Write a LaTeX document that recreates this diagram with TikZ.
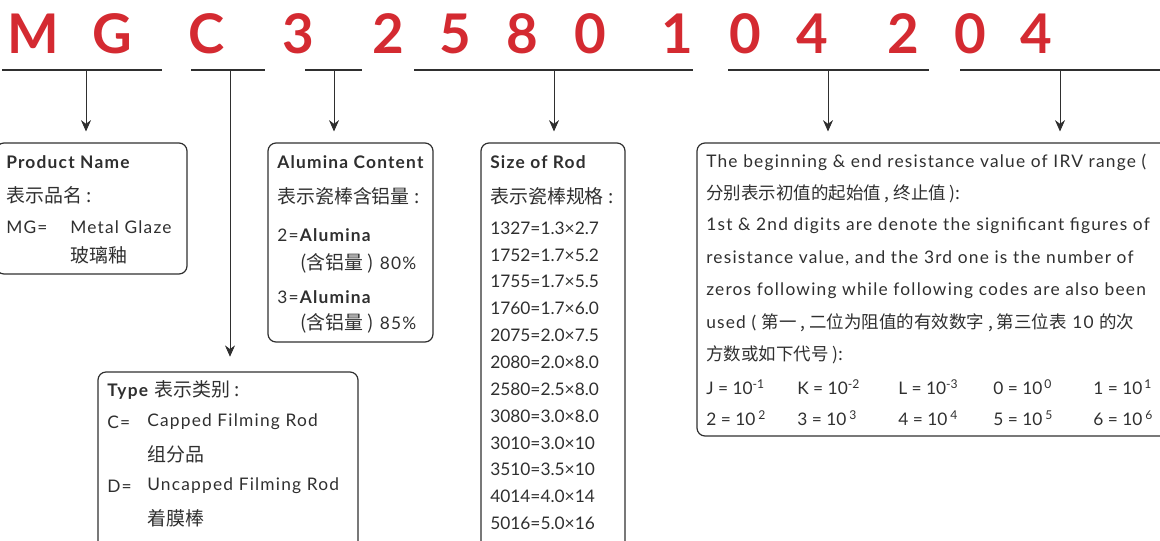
\documentclass[tikz,border=0pt]{standalone}
\usepackage{fontspec}
\setmainfont{Lato}[LetterSpace=7.0]
\newfontfamily\plain{Lato}
\newfontfamily\cjk{Noto Sans CJK SC}
\usepackage{tikz}
\usetikzlibrary{arrows.meta,positioning,fit}
\definecolor{codered}{HTML}{D42A31}
\definecolor{ink}{HTML}{2F2F2F}
\newcommand{\zh}[1]{{\cjk\fontsize{14.2pt}{16pt}\selectfont #1}}
\newcommand{\zhs}[1]{{\cjk\fontsize{13.1pt}{15pt}\selectfont #1}}

\tikzset{
    txt/.style={anchor=west, inner sep=0pt, text=ink,
        font=\fontsize{13pt}{15pt}\selectfont},
    num/.style={txt, font=\plain\fontsize{13pt}{15pt}\selectfont},
    head/.style={txt, font=\fontsize{13pt}{15pt}\selectfont\bfseries},
    codechar/.style={inner sep=0pt, text=codered,
        font=\plain\fontsize{41pt}{44pt}\selectfont\bfseries},
    infobox/.style={draw=ink, line width=0.9pt, rounded corners=6pt, inner sep=0pt},
    underline/.style={draw=ink, line width=0.9pt},
    pointer/.style={draw=ink, line width=0.7pt, -{Stealth[length=8.5pt,width=7.5pt]}}
}

\begin{document}
\begin{tikzpicture}[x=0.75pt,y=-0.75pt]
    \clip (0,0) rectangle (1160,540);

    \foreach \ch/\x [count=\i] in {M/33,G/112,C/207,3/298,2/388,5/455,8/522,
        0/590,1/677,0/745,4/812,2/903,0/970,4/1036}
        \node[codechar] (c\i) at (\x,34) {\ch};

    \coordinate (U1) at (2,70);   \coordinate (V1) at (162,70);
    \coordinate (U2) at (191,70); \coordinate (V2) at (265,70);
    \coordinate (U3) at (305,70); \coordinate (V3) at (362,70);
    \coordinate (U4) at (414,70); \coordinate (V4) at (693,70);
    \coordinate (U5) at (728,70); \coordinate (V5) at (929,70);
    \coordinate (U6) at (960,70); \coordinate (V6) at (1162,70);

    \coordinate (P1) at (86,70);
    \coordinate (P2) at (230,70);
    \coordinate (P3) at (334,70);
    \coordinate (P4) at (554,70);
    \coordinate (P5) at (828,70);
    \coordinate (P6) at (1060,70);

    \foreach \i in {1,...,6}
        \draw[underline] (U\i) -- (V\i);

    \node[infobox, fit={(-4,143) (187,274)}] (namebox) {};
    \node[infobox, fit={(268,143) (433,342)}] (alubox) {};
    \node[infobox, fit={(481,143) (625,560)}] (sizebox) {};
    \node[infobox, fit={(98,372) (358,560)}] (typebox) {};
    \node[infobox, fit={(697,143) (1180,436)}] (rangebox) {};

    \draw[pointer, shorten >=8.2pt] (P1) -- (P1 |- namebox.north);
    \draw[pointer, shorten >=11pt] (P2) -- (P2 |- typebox.north);
    \draw[pointer, shorten >=8.2pt] (P3) -- (P3 |- alubox.north);
    \draw[pointer, shorten >=8.2pt] (P4) -- (P4 |- sizebox.north);
    \draw[pointer, shorten >=8.2pt] (P5) -- (P5 |- rangebox.north);
    \draw[pointer, shorten >=8.2pt] (P6) -- (P6 |- rangebox.north);

    \node[head] (nameA) at (6,162) {Product Name};
    \node[txt] (nameB) at (6,195) {\zh{表示品名 :}};
    \node[txt] (nameC) at (6,227) {MG=};
    \node[txt] (nameD) at (70,227) {Metal Glaze};
    \node[txt] (nameE) at (70,255) {\zh{玻璃釉}};

    \node[head] (aluA) at (277,162) {Alumina Content};
    \node[txt] (aluB) at (277,196) {\zh{表示瓷棒含铝量 :}};
    \node[txt] (aluC) at (277,235) {2=\textbf{Alumina}};
    \node[txt] (aluD) at (300,263) {\zh{(含铝量 )} 80\%};
    \node[txt] (aluE) at (277,297) {3=\textbf{Alumina}};
    \node[txt] (aluF) at (300,323) {\zh{(含铝量 )} 85\%};

    \node[head] (sizeA) at (490,162) {Size of Rod};
    \node[txt] (sizeB) at (490,196) {\zh{表示瓷棒规格 :}};
    \foreach \s [count=\i] in {1327=1.3×2.7,1752=1.7×5.2,1755=1.7×5.5,
        1760=1.7×6.0,2075=2.0×7.5,2080=2.0×8.0,2580=2.5×8.0,3080=3.0×8.0,
        3010=3.0×10,3510=3.5×10,4014=4.0×14,5016=5.0×16}
        \node[num] (size\i) at (490,{228+26.85*(\i-1)}) {\s};

    \node[txt] (typeA) at (107,390) {\textbf{Type} \zh{表示类别 :}};
    \node[txt] (typeB) at (107,422) {C=};
    \node[txt] (typeC) at (147,422) {Capped Filming Rod};
    \node[txt] (typeD) at (147,454) {\zh{组分品}};
    \node[txt] (typeE) at (107,486) {D=};
    \node[txt] (typeF) at (147,486) {Uncapped Filming Rod};
    \node[txt] (typeG) at (147,518) {\zh{着膜棒}};

    \node[txt] (rangeA) at (706,162) {The beginning \& end resistance value of IRV range (};
    \node[txt] (rangeB) at (706,194) {\zhs{分别表示初值的起始值 , 终止值 ):}};
    \node[txt] (rangeC) at (706,226) {1st \& 2nd digits are denote the significant figures of};
    \node[txt] (rangeD) at (706,258) {resistance value, and the 3rd one is the number of};
    \node[txt] (rangeE) at (706,291) {zeros following while following codes are also been};
    \node[txt] (rangeF) at (706,323) {used ( \zhs{第一 , 二位为阻值的有效数字 , 第三位表} 10 \zhs{的次}};
    \node[txt] (rangeG) at (706,355) {\zhs{方数或如下代号 ):}};
    \foreach \k/\e/\x [count=\i] in {J/-1/706,K/-2/797,L/-3/898,0/\,0/993,1/\,1/1093}
        \node[num] (powA\i) at (\x,387) {\k\ = 10\textsuperscript{\e}};
    \foreach \k/\e/\x [count=\i] in {2/2/706,3/3/797,4/4/898,5/5/993,6/6/1093}
        \node[num] (powB\i) at (\x,418) {\k\ = 10\,\textsuperscript{\e}};
\end{tikzpicture}
\end{document}
